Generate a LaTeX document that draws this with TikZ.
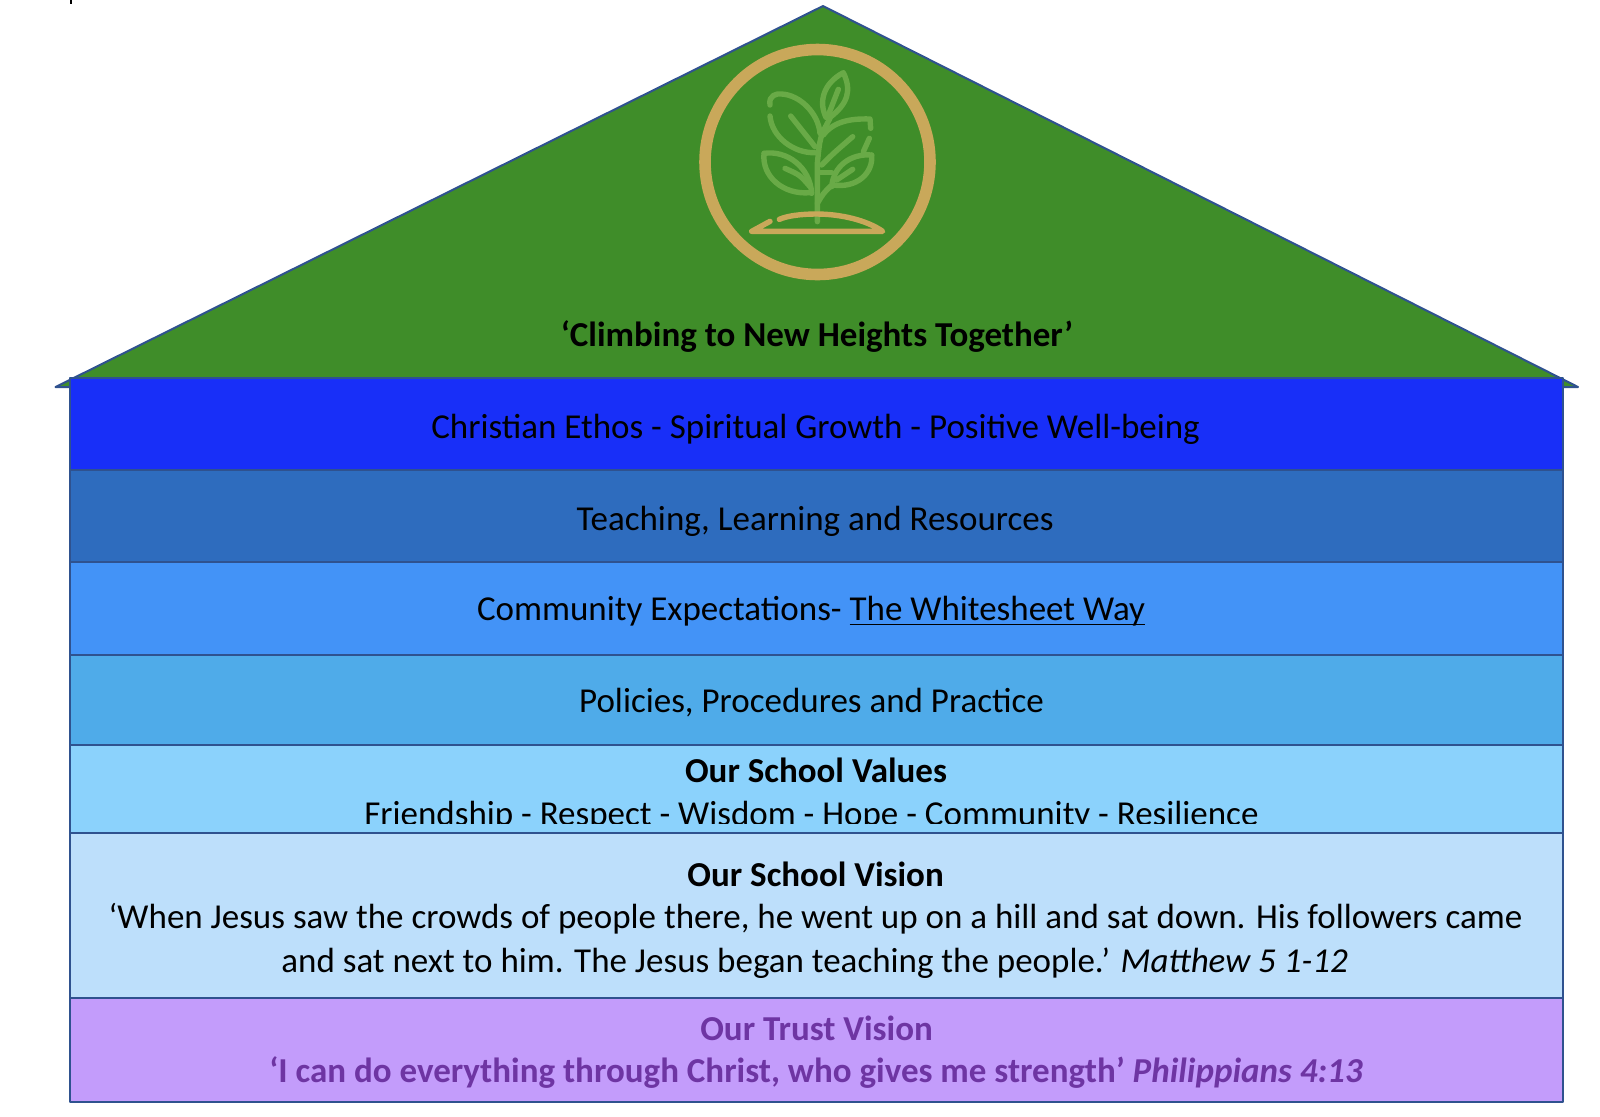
\documentclass[tikz,border=0pt]{standalone}
\usepackage{fontspec}
\setmainfont{Carlito}
\definecolor{roofgreen}{HTML}{3F8D29}
\definecolor{edgeblue}{HTML}{2F528F}
\definecolor{ethosblue}{HTML}{182FF8}
\definecolor{teachblue}{HTML}{2E6CBE}
\definecolor{communityblue}{HTML}{4393F7}
\definecolor{policyblue}{HTML}{4FABE9}
\definecolor{valuesblue}{HTML}{8BD2FC}
\definecolor{visionblue}{HTML}{BDDFFB}
\definecolor{trustlilac}{HTML}{C39CFB}
\definecolor{trustpurple}{HTML}{6E35A3}
\definecolor{logogold}{HTML}{C9A85A}
\definecolor{logogreen}{HTML}{69AA47}
\newcommand{\waylink}[1]{\setbox0\hbox{#1}\rlap{\rule[-2.3pt]{\wd0}{0.75pt}}\box0}
\tikzset{
  band/.style={draw=edgeblue,line width=1pt,line join=round},
  bandtext/.style={anchor=base,inner sep=0pt,font=\fontsize{17.5}{20}\selectfont},
  logoline/.style={logogreen,line width=2.7pt,line cap=round,line join=round},
  goldline/.style={logogold,line width=2.7pt,line cap=round,line join=round}
}
\begin{document}
\begin{tikzpicture}[x=0.5pt,y=-0.5pt]
        \useasboundingbox (0,0) rectangle (1600,1116);
        \fill [black] (70,0) rectangle (72,4);
        % roof
        \draw [band,fill=roofgreen] (55.5,387) -- (823,6) -- (1578,387) -- cycle;
        \draw [logogold,line width=5.8pt] (817.5,162) circle (112.5);
        % bands
        \draw [band,fill=ethosblue] (70,378) rectangle (1563,470);
        \draw [band,fill=teachblue] (70,470) rectangle (1563,562);
        \draw [band,fill=communityblue] (70,562) rectangle (1563,655);
        \draw [band,fill=policyblue] (70,655) rectangle (1563,745);
        \draw [band,fill=valuesblue] (70,745) rectangle (1563,833);
        \draw [band,fill=visionblue] (70,833) rectangle (1563,998);
        \draw [band,fill=trustlilac] (70,998) rectangle (1563,1102);
        % plant, traced in 3x units
        \begin{scope}[shift={(660,30)},x=0.16667pt,y=-0.16667pt]
          \draw [logoline] (472,575) -- (472,400) .. controls (480,320) .. (510,265);
          \draw [logoline] (472,520) .. controls (490,490) .. (512,468);
          \draw [logoline] (480,428) -- (515,428);
          \draw [logoline] (498,262) .. controls (475,215) and (490,160) .. (550,128) .. controls (575,180) and (565,220) .. (510,262);
          \draw [logoline] (505,255) -- (535,178);
          \draw [logoline] (330,225) .. controls (325,195) and (350,190) .. (365,192) .. controls (420,195) and (475,250) .. (480,310);
          \draw [logoline] (330,258) .. controls (335,320) and (400,370) .. (465,368);
          \draw [logoline] (392,258) -- (465,350);
          \draw [logoline] (490,315) .. controls (520,275) and (570,265) .. (630,267) -- (632,295);
          \draw [logoline] (485,405) .. controls (520,370) .. (578,320);
          \draw [logoline] (628,325) -- (610,365);
          \draw [logoline] (312,370) .. controls (380,360) and (450,410) .. (455,490);
          \draw [logoline] (312,370) .. controls (305,440) and (370,495) .. (450,488);
          \draw [logoline] (375,415) .. controls (420,435) .. (450,470);
          \draw [logoline] (635,375) .. controls (570,370) and (520,410) .. (515,470);
          \draw [logoline] (635,375) .. controls (640,430) and (590,475) .. (520,465);
          \draw [logoline] (578,418) -- (530,450);
          \draw [goldline] (330,574) -- (275,604) -- (668,604) .. controls (620,570) and (540,552) .. (470,552) .. controls (420,552) and (380,558) .. (358,568);
        \end{scope}
        % texts
        \draw (817,346) node [bandtext] (motto) {\bfseries ‘Climbing to New Heights Together’};
        \draw (815.6,438) node [bandtext] (ethos) {Christian Ethos - Spiritual Growth - Positive Well-being};
        \draw (815.1,530) node [bandtext] (teaching) {Teaching, Learning and Resources};
        \draw (811,620.5) node [bandtext] (community) {Community Expectations- \waylink{The Whitesheet Way}};
        \draw (811.5,712) node [bandtext] (policies) {Policies, Procedures and Practice};
        \draw (816,782.5) node [bandtext] (valueshead) {\bfseries Our School Values};
        \begin{scope}
          \clip (70,745) rectangle (1563,823);
          \draw (811.5,825) node [bandtext] (values) {Friendship - Respect - Wisdom - Hope - Community - Resilience};
        \end{scope}
        \draw (815.6,886.5) node [bandtext] (visionhead) {\bfseries Our School Vision};
        \draw (815.5,928) node [bandtext] (visionone) {‘When Jesus saw the crowds of people there, he went up on a hill and sat down. His followers came};
        \draw (814.6,972) node [bandtext] (visiontwo) {and sat next to him. The Jesus began teaching the people.’ \itshape Matthew 5 1-12};
        \draw (816.6,1040.5) node [bandtext,text=trustpurple] (trusthead) {\bfseries Our Trust Vision};
        \draw (816,1082.5) node [bandtext,text=trustpurple] (trust) {\bfseries ‘I can do everything through Christ, who gives me strength’ \itshape Philippians 4:13};
\end{tikzpicture}
\end{document}
